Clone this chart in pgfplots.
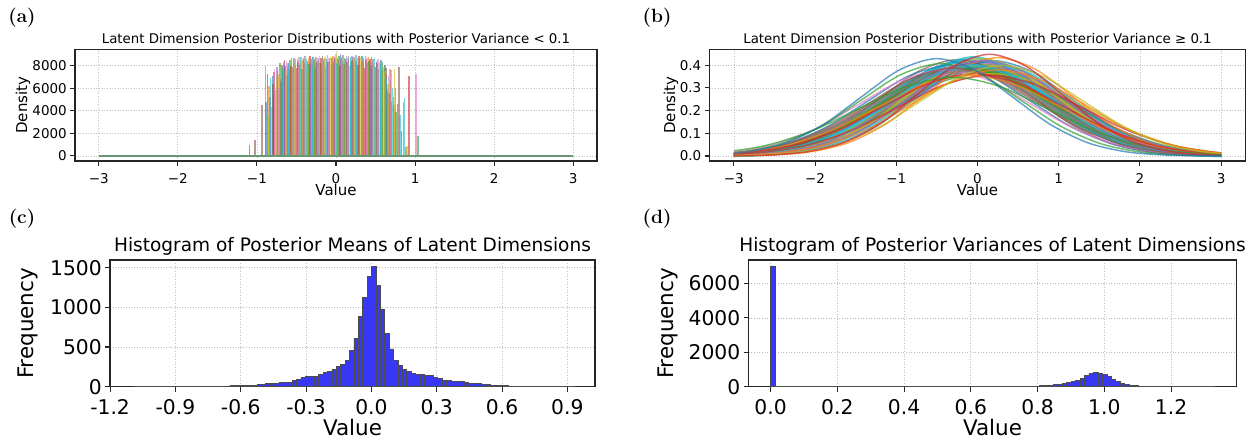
\documentclass[border=0pt]{standalone}
\usepackage{pgfplots}
\pgfplotsset{compat=1.18}
\usepackage{fontspec}
\setsansfont{DejaVu Sans}
\definecolor{C0}{HTML}{1F77B4}
\definecolor{C1}{HTML}{FF7F0E}
\definecolor{C2}{HTML}{2CA02C}
\definecolor{C3}{HTML}{D62728}
\definecolor{C4}{HTML}{9467BD}
\definecolor{C5}{HTML}{8C564B}
\definecolor{C6}{HTML}{E377C2}
\definecolor{C7}{HTML}{7F7F7F}
\definecolor{C8}{HTML}{BCBD22}
\definecolor{C9}{HTML}{17BECF}
\definecolor{barblue}{RGB}{55,55,245}
\definecolor{baseln}{RGB}{105,150,115}
\newcommand{\panelfont}{\fontencoding{OT1}\fontfamily{cmr}\fontseries{bx}\fontshape{n}\fontsize{15}{17}\selectfont}
\pgfplotsset{
  common/.style={scale only axis, anchor=south west,
    axis line style={black!85, line width=0.8pt},
    tick pos=left, tick align=outside, major tick length=3.75pt,
    tick style={black!85, line width=0.8pt},
    grid=major, grid style={black!25, dash pattern=on 0.75pt off 1.25pt, line width=0.5pt},
    xticklabel style={anchor=base, inner sep=0pt},
    yticklabel style={anchor=east, inner sep=0pt},
    title style={anchor=base, at={(0.5,1)}, inner sep=0pt},
  },
  smallax/.style={common, height=83.775pt,
    tick label style={font=\sffamily\fontsize{10.1}{12}\selectfont},
    title style={font=\sffamily\fontsize{10}{12}\selectfont, yshift=-1.3pt},
    xticklabel style={yshift=-12.95pt}, yticklabel style={xshift=-2.25pt},
    every axis x label/.style={at={(axis description cs:0.5,-0.309)}, anchor=base, font=\sffamily\fontsize{11.25}{13}\selectfont},
  },
  bigax/.style={common, height=95.025pt,
    tick label style={font=\sffamily\fontsize{15.2}{17}\selectfont},
    title style={font=\sffamily\fontsize{13.9}{16}\selectfont, yshift=0.2pt},
    xticklabel style={yshift=-17.45pt}, yticklabel style={xshift=-2.25pt},
    every axis x label/.style={at={(axis description cs:0.5,-0.389)}, anchor=base, font=\sffamily\fontsize{16.1}{18}\selectfont},
  },
  spike/.style={ycomb, opacity=0.6, line width=1.1pt},
  crv/.style={smooth, opacity=0.7, line width=1.1pt},
  crvb/.style={smooth, opacity=0.75, line width=2.3pt},
  bars/.style={ybar, bar shift=0pt, fill=barblue, draw=black!70, line width=0.5pt},
}
\begin{document}
\begin{tikzpicture}[font=\sffamily]
\useasboundingbox (0,0) rectangle (936pt,-329.25pt);
\node[font=\panelfont] at (16.5pt,-13.5pt) {(a)};
\node[font=\panelfont] at (492.75pt,-13.5pt) {(b)};
\node[font=\panelfont] at (16.5pt,-164.25pt) {(c)};
\node[font=\panelfont] at (492.75pt,-164.25pt) {(d)};

% ---------------- (a)
\begin{axis}[smallax, at={(56.25pt,-120.75pt)}, width=391.5pt,
  xmin=-3.3, xmax=3.3, ymin=-450, ymax=9450,
  xtick={-3,-2,-1,0,1,2,3}, xticklabels={−3,−2,−1,0,1,2,3},
  ytick={0,2000,4000,6000,8000}, yticklabels={0,2000,4000,6000,8000},
  title={Latent Dimension Posterior Distributions with Posterior Variance < 0.1},
  xlabel={Value}, ylabel={Density},
  every axis y label/.style={at={(axis description cs:-0.0996,0.5)}, rotate=90, anchor=center, font=\sffamily\fontsize{11.25}{13}\selectfont}]
\addplot[spike, C0] coordinates {(-0.60,8200)(-0.43,7700)(-0.36,8400)(-0.29,8750)(-0.12,8550)(-0.05,8650)(0.02,8700)(0.059,9000)(0.19,8450)(0.26,8350)(0.33,8900)(0.40,8250)(0.57,8500)(-0.883,4750)(0.65,5600)(-0.805,7100)(-0.645,8000)(0.69,6700)(0.775,4600)};
\addplot[spike, C1] coordinates {(-0.59,7600)(-0.42,8500)(-0.35,8700)(-0.28,8450)(-0.11,8950)(-0.04,8900)(0.03,8500)(0.10,8150)(0.27,8700)(0.34,8450)(0.41,8800)(0.58,7600)(-0.694,6580)(0.68,7700)(-0.845,6200)(-0.73,7300)(-0.615,8200)(0.735,4500)};
\addplot[spike, C2] coordinates {(-0.58,8500)(-0.41,8650)(-0.34,8150)(-0.27,8600)(-0.20,8200)(-0.03,8350)(0.04,8850)(0.11,8700)(0.28,8050)(0.35,8650)(0.42,8400)(0.59,8300)(-0.790,5250)(-0.677,7760)(0.62,8100)(1.034,1770)(-0.71,8200)(0.672,5600)(0.76,3900)};
\addplot[spike, C3] coordinates {(-0.57,8000)(-0.50,7800)(-0.33,8900)(-0.26,7850)(-0.19,8700)(-0.02,8750)(0.05,8000)(0.12,8550)(0.29,8850)(0.36,7800)(0.43,8600)(0.50,7900)(-1.092,975)(-0.866,7300)(-0.652,8500)(0.645,5840)(0.921,7080)(-0.785,7400)(0.705,4800)};
\addplot[spike, C4] coordinates {(-0.56,8650)(-0.49,8600)(-0.32,8350)(-0.25,8800)(-0.18,8050)(-0.01,8550)(0.06,8600)(0.13,8900)(0.20,8900)(0.37,8850)(0.44,7950)(0.51,8450)(0.854,4800)(-0.62,7200)(-0.835,5200)(-0.745,7900)(-0.66,8300)(0.64,7300)(0.725,5200)};
\addplot[spike, C5] coordinates {(-0.55,7900)(-0.48,8300)(-0.31,8550)(-0.24,8300)(-0.17,8850)(-0.10,8300)(0.07,8800)(0.14,8300)(0.21,8600)(0.38,8500)(0.45,8750)(0.52,8250)(-1.025,1416)(-0.937,4500)(0.795,7900)(-0.795,6400)(-0.685,8100)(0.63,7800)(0.83,2200)};
\addplot[spike, C6] coordinates {(-0.54,8400)(-0.47,8750)(-0.40,8250)(-0.23,8650)(-0.16,8400)(-0.09,8700)(0.08,8400)(0.15,8650)(0.22,8200)(0.39,8700)(0.46,8350)(0.53,8600)(0.60,7850)(-0.777,7700)(-0.72,6000)(0.698,7600)(1.009,7260)(-0.815,4300)(-0.628,8400)(0.665,7100)};
\addplot[spike, C7] coordinates {(-0.53,8700)(-0.46,8050)(-0.39,8850)(-0.22,8500)(-0.15,8600)(-0.08,8450)(0.09,8950)(0.16,8850)(0.23,8800)(0.30,8550)(0.47,8550)(0.54,7700)(0.61,8100)(-0.891,8000)(-0.740,7600)(0.753,6000)(0.888,830)(-0.70,6800)};
\addplot[spike, C8] coordinates {(-0.52,8100)(-0.45,8450)(-0.38,7950)(-0.21,8900)(-0.14,8750)(-0.07,8800)(0.00,9000)(0.17,7950)(0.24,8500)(0.31,8750)(0.48,8100)(0.55,8350)(0.62,7500)(0.740,7670)(-0.855,3500)(-0.755,6900)(-0.635,7600)(0.655,6400)(0.90,900)};
\addplot[spike, C9] coordinates {(-0.51,8550)(-0.44,8800)(-0.37,8600)(-0.30,8000)(-0.13,7900)(-0.06,8100)(0.01,8250)(0.18,8750)(0.25,8950)(0.32,8300)(0.49,8700)(0.56,8050)(0.867,5100)(-0.825,6900)(-0.765,5800)(-0.668,7700)(-0.605,7900)(0.635,6900)(0.715,5900)(0.81,3600)};
\addplot[baseln, line width=1.5pt] coordinates {(-3,0)(3,0)};
\end{axis}

% ---------------- (b) frame
\begin{axis}[smallax, at={(532.125pt,-120.75pt)}, width=402pt,
  xmin=-3.3, xmax=3.3, ymin=-0.022, ymax=0.47,
  xtick={-3,-2,-1,0,1,2,3}, xticklabels={−3,−2,−1,0,1,2,3},
  ytick={0,0.1,0.2,0.3,0.4}, yticklabels={0.0,0.1,0.2,0.3,0.4},
  title={Latent Dimension Posterior Distributions with Posterior Variance ≥ 0.1},
  xlabel={Value}, ylabel={Density},
  every axis y label/.style={at={(axis description cs:-0.0718,0.5)}, rotate=90, anchor=center, font=\sffamily\fontsize{11.25}{13}\selectfont}]
\end{axis}
% ---------------- (b) curves, clipped to [-3,3]
\begin{axis}[scale only axis, anchor=south west, at={(550.398pt,-120.75pt)}, width=365.455pt, height=83.775pt,
  xmin=-3, xmax=3, ymin=-0.022, ymax=0.47, hide axis, clip=true]
\addplot[crvb, C2] coordinates {(-4.1,.0001)(-3.6,.0009)(-3.1,.0044)(-2.6,.0175)(-2.1,.0540)(-1.6,.1295)(-1.1,.2420)(-0.6,.3521)(-0.1,.3989)(0.4,.3521)(0.9,.2420)(1.4,.1295)(1.9,.0540)(2.4,.0175)(2.9,.0044)(3.4,.0009)(3.9,.0001)};
\addplot[crvb, C9] coordinates {(-3.83,.0001)(-3.345,.0009)(-2.86,.0045)(-2.375,.0180)(-1.89,.0557)(-1.405,.1335)(-0.92,.2495)(-0.435,.3630)(0.05,.4113)(0.535,.3630)(1.02,.2495)(1.505,.1335)(1.99,.0557)(2.475,.0180)(2.96,.0045)(3.445,.0009)(3.93,.0001)};
\addplot[crvb, C0] coordinates {(-3.95,.0001)(-3.475,.0009)(-3.0,.0046)(-2.525,.0184)(-2.05,.0568)(-1.575,.1363)(-1.1,.2547)(-0.625,.3706)(-0.15,.4199)(0.325,.3706)(0.8,.2547)(1.275,.1363)(1.75,.0568)(2.225,.0184)(2.7,.0046)(3.175,.0009)(3.65,.0001)};
\addplot[crvb, C7] coordinates {(-4.02,.0001)(-3.505,.0008)(-2.99,.0043)(-2.475,.0170)(-1.96,.0524)(-1.445,.1257)(-0.93,.2349)(-0.415,.3418)(0.1,.3873)(0.615,.3418)(1.13,.2349)(1.645,.1257)(2.16,.0524)(2.675,.0170)(3.19,.0043)(3.705,.0008)(4.22,.0001)};
\addplot[crvb, C4] coordinates {(-4.25,.0001)(-3.725,.0008)(-3.2,.0042)(-2.675,.0167)(-2.15,.0514)(-1.625,.1233)(-1.1,.2305)(-0.575,.3353)(-0.05,.3799)(0.475,.3353)(1.0,.2305)(1.525,.1233)(2.05,.0514)(2.575,.0167)(3.1,.0042)(3.625,.0008)(4.15,.0001)};
\addplot[crvb, C2] coordinates {(-3.92,.0001)(-3.43,.0009)(-2.94,.0045)(-2.45,.0179)(-1.96,.0551)(-1.47,.1321)(-0.98,.2469)(-0.49,.3593)(0,.4071)(0.49,.3593)(0.98,.2469)(1.47,.1321)(1.96,.0551)(2.45,.0179)(2.94,.0045)(3.43,.0009)(3.92,.0001)};
\addplot[crvb, C5] coordinates {(-4.33,.0001)(-3.82,.0009)(-3.31,.0043)(-2.8,.0172)(-2.29,.0529)(-1.78,.1270)(-1.27,.2373)(-0.76,.3452)(-0.25,.3911)(0.26,.3452)(0.77,.2373)(1.28,.1270)(1.79,.0529)(2.3,.0172)(2.81,.0043)(3.32,.0009)(3.83,.0001)};
\addplot[crvb, C9] coordinates {(-3.73,.0001)(-3.245,.0009)(-2.76,.0045)(-2.275,.0180)(-1.79,.0557)(-1.305,.1335)(-0.82,.2495)(-0.335,.3630)(0.15,.4113)(0.635,.3630)(1.12,.2495)(1.605,.1335)(2.09,.0557)(2.575,.0180)(3.06,.0045)(3.545,.0009)(4.03,.0001)};
\addplot[crvb, C1] coordinates {(-4.34,.0001)(-3.81,.0008)(-3.28,.0042)(-2.75,.0165)(-2.22,.0509)(-1.69,.1222)(-1.16,.2283)(-0.63,.3322)(-0.1,.3763)(0.43,.3322)(0.96,.2283)(1.49,.1222)(2.02,.0509)(2.55,.0165)(3.08,.0042)(3.61,.0008)(4.14,.0001)};
\addplot[crvb, C8] coordinates {(-3.95,.0001)(-3.45,.0009)(-2.95,.0044)(-2.45,.0175)(-1.95,.0540)(-1.45,.1295)(-0.95,.2420)(-0.45,.3521)(0.05,.3989)(0.55,.3521)(1.05,.2420)(1.55,.1295)(2.05,.0540)(2.55,.0175)(3.05,.0044)(3.55,.0009)(4.05,.0001)};
\addplot[crv, C9] coordinates {(-4.08,.0001)(-3.595,.0009)(-3.11,.0045)(-2.625,.0180)(-2.14,.0557)(-1.655,.1335)(-1.17,.2495)(-0.685,.3630)(-0.2,.4113)(0.285,.3630)(0.77,.2495)(1.255,.1335)(1.74,.0557)(2.225,.0180)(2.71,.0045)(3.195,.0009)(3.68,.0001)};
\addplot[crv, C6] coordinates {(-3.82,.0001)(-3.33,.0009)(-2.84,.0045)(-2.35,.0179)(-1.86,.0551)(-1.37,.1321)(-0.88,.2469)(-0.39,.3593)(0.1,.4071)(0.59,.3593)(1.08,.2469)(1.57,.1321)(2.06,.0551)(2.55,.0179)(3.04,.0045)(3.53,.0009)(4.02,.0001)};
\addplot[crvb, C2] coordinates {(-4.23,.0001)(-3.72,.0009)(-3.21,.0043)(-2.7,.0172)(-2.19,.0529)(-1.68,.1270)(-1.17,.2373)(-0.66,.3452)(-0.15,.3911)(0.36,.3452)(0.87,.2373)(1.38,.1270)(1.89,.0529)(2.4,.0172)(2.91,.0043)(3.42,.0009)(3.93,.0001)};
\addplot[crv, C7] coordinates {(-4.07,.0001)(-3.555,.0008)(-3.04,.0043)(-2.525,.0170)(-2.01,.0524)(-1.495,.1257)(-0.98,.2349)(-0.465,.3418)(0.05,.3873)(0.565,.3418)(1.08,.2349)(1.595,.1257)(2.11,.0524)(2.625,.0170)(3.14,.0043)(3.655,.0008)(4.17,.0001)};
\addplot[crv, C5] coordinates {(-4.01,.0001)(-3.54,.0010)(-3.07,.0047)(-2.6,.0186)(-2.13,.0574)(-1.66,.1378)(-1.19,.2574)(-0.72,.3746)(-0.25,.4244)(0.22,.3746)(0.69,.2574)(1.16,.1378)(1.63,.0574)(2.1,.0186)(2.57,.0047)(3.04,.0010)(3.51,.0001)};
\addplot[crv, C0] coordinates {(-3.6,.0001)(-3.125,.0009)(-2.65,.0046)(-2.175,.0184)(-1.7,.0568)(-1.225,.1363)(-0.75,.2547)(-0.275,.3706)(0.2,.4199)(0.675,.3706)(1.15,.2547)(1.625,.1363)(2.1,.0568)(2.575,.0184)(3.05,.0046)(3.525,.0009)(4.0,.0001)};
\addplot[crvb, C9] coordinates {(-3.73,.0001)(-3.27,.0010)(-2.81,.0048)(-2.35,.0190)(-1.89,.0587)(-1.43,.1408)(-0.97,.2630)(-0.51,.3827)(-0.05,.4336)(0.41,.3827)(0.87,.2630)(1.33,.1408)(1.79,.0587)(2.25,.0190)(2.71,.0048)(3.17,.0010)(3.63,.0001)};
\addplot[crv, C2] coordinates {(-4.22,.0001)(-3.68,.0008)(-3.14,.0041)(-2.6,.0162)(-2.06,.0500)(-1.52,.1199)(-0.98,.2241)(-0.44,.3260)(0.1,.3694)(0.64,.3260)(1.18,.2241)(1.72,.1199)(2.26,.0500)(2.8,.0162)(3.34,.0041)(3.88,.0008)(4.42,.0001)};
\addplot[crv, C0] coordinates {(-4.35,.0001)(-3.85,.0009)(-3.35,.0044)(-2.85,.0175)(-2.35,.0540)(-1.85,.1295)(-1.35,.2420)(-0.85,.3521)(-0.35,.3989)(0.15,.3521)(0.65,.2420)(1.15,.1295)(1.65,.0540)(2.15,.0175)(2.65,.0044)(3.15,.0009)(3.65,.0001)};
\addplot[crv, C1] coordinates {(-4,.0001)(-3.5,.0009)(-3,.0044)(-2.5,.0175)(-2,.0540)(-1.5,.1295)(-1,.2420)(-0.5,.3521)(0,.3989)(0.5,.3521)(1,.2420)(1.5,.1295)(2,.0540)(2.5,.0175)(3,.0044)(3.5,.0009)(4,.0001)};
\addplot[crv, C4] coordinates {(-3.93,.0001)(-3.42,.0009)(-2.91,.0043)(-2.4,.0172)(-1.89,.0529)(-1.38,.1270)(-0.87,.2373)(-0.36,.3452)(0.15,.3911)(0.66,.3452)(1.17,.2373)(1.68,.1270)(2.19,.0529)(2.7,.0172)(3.21,.0043)(3.72,.0009)(4.23,.0001)};
\addplot[crv, C5] coordinates {(-4.02,.0001)(-3.53,.0009)(-3.04,.0045)(-2.55,.0179)(-2.06,.0551)(-1.57,.1321)(-1.08,.2469)(-0.59,.3593)(-0.1,.4071)(0.39,.3593)(0.88,.2469)(1.37,.1321)(1.86,.0551)(2.35,.0179)(2.84,.0045)(3.33,.0009)(3.82,.0001)};
\addplot[crv, C8] coordinates {(-3.67,.0001)(-3.205,.0010)(-2.74,.0047)(-2.275,.0188)(-1.81,.0581)(-1.345,.1392)(-0.88,.2602)(-0.415,.3786)(0.05,.4289)(0.515,.3786)(0.98,.2602)(1.445,.1392)(1.91,.0581)(2.375,.0188)(2.84,.0047)(3.305,.0010)(3.77,.0001)};
\addplot[crv, C6] coordinates {(-4.6,.0001)(-4.075,.0008)(-3.55,.0042)(-3.025,.0167)(-2.5,.0514)(-1.975,.1233)(-1.45,.2305)(-0.925,.3353)(-0.4,.3799)(0.125,.3353)(0.65,.2305)(1.175,.1233)(1.7,.0514)(2.225,.0167)(2.75,.0042)(3.275,.0008)(3.8,.0001)};
\addplot[crv, C1] coordinates {(-3.43,.0001)(-2.97,.0010)(-2.51,.0048)(-2.05,.0190)(-1.59,.0587)(-1.13,.1408)(-0.67,.2630)(-0.21,.3827)(0.25,.4336)(0.71,.3827)(1.17,.2630)(1.63,.1408)(2.09,.0587)(2.55,.0190)(3.01,.0048)(3.47,.0010)(3.93,.0001)};
\addplot[crvb, C7] coordinates {(-4.44,.0001)(-3.91,.0008)(-3.38,.0042)(-2.85,.0165)(-2.32,.0509)(-1.79,.1222)(-1.26,.2283)(-0.73,.3322)(-0.2,.3763)(0.33,.3322)(0.86,.2283)(1.39,.1222)(1.92,.0509)(2.45,.0165)(2.98,.0042)(3.51,.0008)(4.04,.0001)};
\addplot[crv, C8] coordinates {(-4.2,.0001)(-3.65,.0008)(-3.1,.0040)(-2.55,.0159)(-2.0,.0491)(-1.45,.1177)(-0.9,.2200)(-0.35,.3201)(0.2,.3627)(0.75,.3201)(1.3,.2200)(1.85,.1177)(2.4,.0491)(2.95,.0159)(3.5,.0040)(4.05,.0008)(4.6,.0001)};
\addplot[crv, C2] coordinates {(-4.37,.0001)(-3.88,.0009)(-3.39,.0045)(-2.9,.0179)(-2.41,.0551)(-1.92,.1321)(-1.43,.2469)(-0.94,.3593)(-0.45,.4071)(0.04,.3593)(0.53,.2469)(1.02,.1321)(1.51,.0551)(2.0,.0179)(2.49,.0045)(2.98,.0009)(3.47,.0001)};
\addplot[crvb, C9] coordinates {(-4.05,.0001)(-3.55,.0009)(-3.05,.0044)(-2.55,.0175)(-2.05,.0540)(-1.55,.1295)(-1.05,.2420)(-0.55,.3521)(-0.05,.3989)(0.45,.3521)(0.95,.2420)(1.45,.1295)(1.95,.0540)(2.45,.0175)(2.95,.0044)(3.45,.0009)(3.95,.0001)};
\addplot[crv, C4] coordinates {(-3.7,.0001)(-3.225,.0009)(-2.75,.0046)(-2.275,.0184)(-1.8,.0568)(-1.325,.1363)(-0.85,.2547)(-0.375,.3706)(0.1,.4199)(0.575,.3706)(1.05,.2547)(1.525,.1363)(2.0,.0568)(2.475,.0184)(2.95,.0046)(3.425,.0009)(3.9,.0001)};
\addplot[crv, C5] coordinates {(-4.42,.0001)(-3.905,.0008)(-3.39,.0043)(-2.875,.0170)(-2.36,.0524)(-1.845,.1257)(-1.33,.2349)(-0.815,.3418)(-0.3,.3873)(0.215,.3418)(0.73,.2349)(1.245,.1257)(1.76,.0524)(2.275,.0170)(2.79,.0043)(3.305,.0008)(3.82,.0001)};
\addplot[crv, C3] coordinates {(-4.33,.0001)(-3.77,.0008)(-3.21,.0040)(-2.65,.0156)(-2.09,.0482)(-1.53,.1156)(-0.97,.2161)(-0.41,.3144)(0.15,.3562)(0.71,.3144)(1.27,.2161)(1.83,.1156)(2.39,.0482)(2.95,.0156)(3.51,.0040)(4.07,.0008)(4.63,.0001)};
\addplot[crv, C4] coordinates {(-3.8,.0001)(-3.325,.0009)(-2.85,.0046)(-2.375,.0184)(-1.9,.0568)(-1.425,.1363)(-0.95,.2547)(-0.475,.3706)(0,.4199)(0.475,.3706)(0.95,.2547)(1.425,.1363)(1.9,.0568)(2.375,.0184)(2.85,.0046)(3.325,.0009)(3.8,.0001)};
\addplot[crv, C1] coordinates {(-4.58,.0001)(-4.02,.0008)(-3.46,.0040)(-2.9,.0156)(-2.34,.0482)(-1.78,.1156)(-1.22,.2161)(-0.66,.3144)(-0.1,.3562)(0.46,.3144)(1.02,.2161)(1.58,.1156)(2.14,.0482)(2.7,.0156)(3.26,.0040)(3.82,.0008)(4.38,.0001)};
\addplot[crv, C3] coordinates {(-4.45,.0001)(-3.9,.0008)(-3.35,.0040)(-2.8,.0159)(-2.25,.0491)(-1.7,.1177)(-1.15,.2200)(-0.6,.3201)(-0.05,.3627)(0.5,.3201)(1.05,.2200)(1.6,.1177)(2.15,.0491)(2.7,.0159)(3.25,.0040)(3.8,.0008)(4.35,.0001)};
\addplot[crv, C1] coordinates {(-3.95,.0001)(-3.425,.0008)(-2.9,.0042)(-2.375,.0167)(-1.85,.0514)(-1.325,.1233)(-0.8,.2305)(-0.275,.3353)(0.25,.3799)(0.775,.3353)(1.3,.2305)(1.825,.1233)(2.35,.0514)(2.875,.0167)(3.4,.0042)(3.925,.0008)(4.45,.0001)};
\addplot[crv, C8] coordinates {(-3.7,.0001)(-3.2,.0009)(-2.7,.0044)(-2.2,.0175)(-1.7,.0540)(-1.2,.1295)(-0.7,.2420)(-0.2,.3521)(0.3,.3989)(0.8,.3521)(1.3,.2420)(1.8,.1295)(2.3,.0540)(2.8,.0175)(3.3,.0044)(3.8,.0009)(4.3,.0001)};
\addplot[crv, C2] coordinates {(-4.9,.0001)(-4.325,.0008)(-3.75,.0038)(-3.175,.0152)(-2.6,.0470)(-2.025,.1126)(-1.45,.2104)(-0.875,.3062)(-0.3,.3469)(0.275,.3062)(0.85,.2104)(1.425,.1126)(2.0,.0470)(2.575,.0152)(3.15,.0038)(3.725,.0008)(4.3,.0001)};
\addplot[crv, C3] coordinates {(-3.41,.0001)(-2.965,.0010)(-2.52,.0049)(-2.075,.0197)(-1.63,.0607)(-1.185,.1455)(-0.74,.2719)(-0.295,.3956)(0.15,.4482)(0.595,.3956)(1.04,.2719)(1.485,.1455)(1.93,.0607)(2.375,.0197)(2.82,.0049)(3.265,.0010)(3.71,.0001)};
\addplot[crv, C0] coordinates {(-4.22,.0001)(-3.755,.0010)(-3.29,.0047)(-2.825,.0188)(-2.36,.0581)(-1.895,.1392)(-1.43,.2602)(-0.965,.3786)(-0.5,.4289)(-0.035,.3786)(0.43,.2602)(0.895,.1392)(1.36,.0581)(1.825,.0188)(2.29,.0047)(2.755,.0010)(3.22,.0001)};
\end{axis}

% ---------------- (c)
\begin{axis}[bigax, at={(82.5pt,-290.025pt)}, width=363.75pt,
  xmin=-1.2005, xmax=1.027, ymin=0, ymax=1596,
  xtick={-1.2,-0.9,-0.6,-0.3,0,0.3,0.6,0.9}, xticklabels={-1.2,-0.9,-0.6,-0.3,0.0,0.3,0.6,0.9},
  ytick={0,500,1000,1500}, yticklabels={0,500,1000,1500},
  title={Histogram of Posterior Means of Latent Dimensions},
  xlabel={Value}, ylabel={Frequency},
  every axis y label/.style={at={(axis description cs:-0.169,0.5)}, rotate=90, anchor=center, font=\sffamily\fontsize{16.1}{18}\selectfont}]
\addplot[bars, bar width=0.02025] coordinates {(-1.0828,1)(-1.0625,0)(-1.0423,0)(-1.0220,1)(-1.0018,0)(-0.9815,0)(-0.9613,1)(-0.9410,0)(-0.9208,1)(-0.9005,1)(-0.8803,2)(-0.8600,1)(-0.8398,2)(-0.8195,3)(-0.7993,2)(-0.7790,3)(-0.7588,4)(-0.7385,5)(-0.7183,5)(-0.6980,6)(-0.6778,8)(-0.6575,10)(-0.6373,13)(-0.6170,17)(-0.5968,17)(-0.5765,21)(-0.5563,21)(-0.5360,21)(-0.5158,25)(-0.4955,34)(-0.4753,38)(-0.4550,42)(-0.4348,46)(-0.4145,55)(-0.3943,59)(-0.3740,59)(-0.3538,84)(-0.3335,88)(-0.3133,118)(-0.2930,126)(-0.2728,130)(-0.2525,134)(-0.2323,160)(-0.2120,181)(-0.1918,197)(-0.1715,223)(-0.1513,252)(-0.1310,280)(-0.1108,330)(-0.0905,462)(-0.0703,613)(-0.0500,890)(-0.0298,1126)(-0.0095,1390)(0.0107,1516)(0.0310,1281)(0.0512,979)(0.0715,672)(0.0917,475)(0.1120,328)(0.1322,273)(0.1525,223)(0.1727,189)(0.1930,168)(0.2132,160)(0.2335,151)(0.2537,147)(0.2740,139)(0.2942,118)(0.3145,105)(0.3347,84)(0.3550,76)(0.3752,67)(0.3955,67)(0.4157,67)(0.4360,50)(0.4562,46)(0.4765,42)(0.4967,38)(0.5170,34)(0.5372,25)(0.5575,21)(0.5777,17)(0.5980,13)(0.6182,12)(0.6385,8)(0.6587,5)(0.6790,5)(0.6992,5)(0.7195,3)(0.7397,2)(0.7600,2)(0.7802,1)(0.8005,1)(0.8207,1)(0.8410,0)(0.8612,1)(0.8815,0)(0.9017,0)(0.9220,1)};
\addplot[black!70, line width=0.8pt] coordinates {(-1.093,0)(0.932,0)};
\end{axis}

% ---------------- (d)
\begin{axis}[bigax, at={(561.375pt,-290.025pt)}, width=366pt,
  xmin=-0.066, xmax=1.396, ymin=0, ymax=7362,
  xtick={0,0.2,0.4,0.6,0.8,1.0,1.2}, xticklabels={0.0,0.2,0.4,0.6,0.8,1.0,1.2},
  ytick={0,2000,4000,6000}, yticklabels={0,2000,4000,6000},
  title={Histogram of Posterior Variances of Latent Dimensions},
  xlabel={Value}, ylabel={Frequency},
  every axis y label/.style={at={(axis description cs:-0.165,0.5)}, rotate=90, anchor=center, font=\sffamily\fontsize{16.1}{18}\selectfont}]
\addplot[bars, bar width=0.0134] coordinates {(0.0067,7014)(0.6390,1)(0.6524,1)(0.6658,1)(0.6792,2)(0.6926,2)(0.7060,3)(0.7194,4)(0.7328,5)(0.7462,8)(0.7596,10)(0.7730,20)(0.7864,29)(0.7998,39)(0.8132,58)(0.8266,77)(0.8400,97)(0.8534,116)(0.8668,135)(0.8802,193)(0.8936,251)(0.9070,309)(0.9204,386)(0.9338,502)(0.9472,656)(0.9606,790)(0.9740,850)(0.9874,790)(1.0008,714)(1.0142,580)(1.0276,425)(1.0410,309)(1.0544,212)(1.0678,154)(1.0812,97)(1.0946,58)(1.1080,39)(1.1214,20)(1.1348,10)(1.1482,5)(1.1616,3)(1.1750,2)(1.1884,1)(1.2018,1)(1.2152,1)(1.2286,0)(1.2420,1)(1.2554,0)(1.2688,0)(1.2822,0)(1.2956,0)(1.3090,0)(1.3224,1)};
\addplot[black!70, line width=0.8pt] coordinates {(0,0)(1.329,0)};
\end{axis}
\end{tikzpicture}
\end{document}
